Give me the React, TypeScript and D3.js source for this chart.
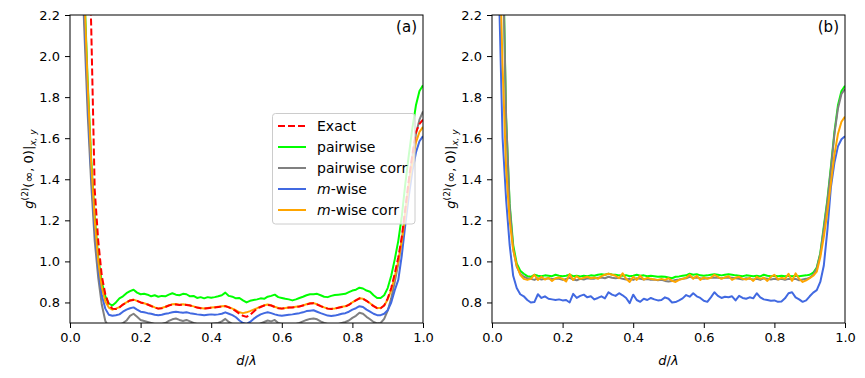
import React, { useEffect, useRef } from "react";
import * as d3 from "d3";

// d/lambda grid, step 0.01
const dValues = d3.range(101).map((i) => i / 100);

// panel (a)
const exactA = [
  9.0, 7.5, 6.0, 4.8, 3.6, 2.75, 2.15, 1.35, 1.1, 0.93,
  0.84, 0.79, 0.77, 0.768, 0.775, 0.79, 0.8, 0.81, 0.812, 0.808,
  0.8, 0.795, 0.79, 0.782, 0.775, 0.77, 0.772, 0.778, 0.785, 0.79,
  0.79, 0.788, 0.79, 0.788, 0.785, 0.78, 0.775, 0.772, 0.77, 0.772,
  0.774, 0.776, 0.778, 0.78, 0.782, 0.776, 0.768, 0.758, 0.745, 0.735,
  0.73, 0.74, 0.755, 0.77, 0.778, 0.785, 0.788, 0.785, 0.778, 0.772,
  0.77, 0.772, 0.775, 0.776, 0.778, 0.78, 0.785, 0.79, 0.795, 0.796,
  0.79, 0.782, 0.775, 0.77, 0.768, 0.77, 0.774, 0.778, 0.78, 0.788,
  0.8, 0.81, 0.82, 0.818, 0.808, 0.795, 0.782, 0.772, 0.772, 0.785,
  0.82, 0.87, 0.94, 1.02, 1.12, 1.26, 1.4, 1.52, 1.63, 1.67,
  1.69,
];
const pairwiseA = [
  6.0, 4.6, 3.6, 2.9, 2.35, 1.88, 1.5, 1.22, 1.02, 0.9,
  0.83, 0.795, 0.785, 0.8, 0.82, 0.83, 0.845, 0.855, 0.862, 0.848,
  0.84, 0.842, 0.838, 0.83, 0.835, 0.828, 0.832, 0.83, 0.838, 0.845,
  0.838, 0.835, 0.842, 0.84, 0.83, 0.832, 0.822, 0.826, 0.82, 0.826,
  0.823, 0.826, 0.83, 0.835, 0.848, 0.832, 0.828, 0.82, 0.822, 0.81,
  0.8, 0.808, 0.812, 0.815, 0.82, 0.818, 0.828, 0.832, 0.838, 0.826,
  0.822, 0.818, 0.815, 0.81, 0.815, 0.822, 0.828, 0.835, 0.84, 0.84,
  0.842, 0.835, 0.828, 0.826, 0.832, 0.836, 0.838, 0.84, 0.842, 0.85,
  0.858, 0.862, 0.872, 0.868, 0.858, 0.852, 0.835, 0.822, 0.822, 0.835,
  0.87, 0.93, 1.01, 1.1, 1.22, 1.38, 1.52, 1.65, 1.76, 1.83,
  1.858,
];
const pairwiseCorrA = [
  5.4, 4.2, 3.3, 2.65, 2.15, 1.72, 1.38, 1.1, 0.92, 0.79,
  0.71, 0.68, 0.675, 0.68, 0.69, 0.7, 0.712, 0.735, 0.745, 0.73,
  0.715, 0.71, 0.705, 0.7, 0.695, 0.692, 0.695, 0.7, 0.71, 0.718,
  0.722, 0.715, 0.71, 0.715, 0.708, 0.7, 0.695, 0.692, 0.69, 0.692,
  0.695, 0.698, 0.7, 0.708, 0.72, 0.705, 0.695, 0.685, 0.67, 0.66,
  0.655, 0.665, 0.68, 0.69, 0.698, 0.705, 0.712, 0.708, 0.715, 0.7,
  0.695, 0.692, 0.69, 0.692, 0.695, 0.7, 0.708, 0.715, 0.72, 0.722,
  0.718, 0.708, 0.7, 0.695, 0.69, 0.692, 0.695, 0.7, 0.705, 0.712,
  0.725, 0.735, 0.75, 0.745, 0.73, 0.718, 0.705, 0.698, 0.7, 0.72,
  0.76, 0.82, 0.9, 0.99, 1.1, 1.24, 1.38, 1.51, 1.62, 1.69,
  1.73,
];
const mWiseA = [
  5.6, 4.3, 3.4, 2.75, 2.25, 1.8, 1.43, 1.16, 0.97, 0.835,
  0.77, 0.74, 0.735, 0.738, 0.742, 0.755, 0.765, 0.772, 0.776, 0.765,
  0.755, 0.752, 0.748, 0.745, 0.74, 0.738, 0.74, 0.745, 0.748, 0.752,
  0.755, 0.752, 0.75, 0.752, 0.748, 0.745, 0.742, 0.74, 0.738, 0.74,
  0.742, 0.74, 0.742, 0.745, 0.752, 0.745, 0.738, 0.728, 0.712, 0.7,
  0.695, 0.705, 0.72, 0.732, 0.742, 0.748, 0.752, 0.748, 0.742, 0.738,
  0.735, 0.738, 0.74, 0.742, 0.745, 0.748, 0.752, 0.758, 0.76, 0.762,
  0.755, 0.748, 0.742, 0.736, 0.734, 0.736, 0.74, 0.745, 0.748, 0.755,
  0.765, 0.772, 0.782, 0.778, 0.765, 0.755, 0.745, 0.738, 0.738, 0.745,
  0.762, 0.8, 0.86, 0.91, 1.03, 1.18, 1.32, 1.44, 1.53, 1.585,
  1.61,
];
const mWiseCorrA = [
  6.0, 4.6, 3.6, 2.9, 2.33, 1.86, 1.48, 1.2, 1.0, 0.875,
  0.805, 0.775, 0.765, 0.77, 0.777, 0.79, 0.8, 0.81, 0.814, 0.808,
  0.8, 0.796, 0.79, 0.784, 0.776, 0.771, 0.773, 0.779, 0.786, 0.791,
  0.792, 0.789, 0.791, 0.789, 0.786, 0.781, 0.776, 0.773, 0.771, 0.773,
  0.775, 0.777, 0.779, 0.781, 0.783, 0.777, 0.77, 0.762, 0.752, 0.748,
  0.752, 0.758, 0.765, 0.772, 0.78, 0.786, 0.79, 0.786, 0.779, 0.773,
  0.771, 0.773, 0.776, 0.777, 0.779, 0.781, 0.786, 0.791, 0.796, 0.797,
  0.791, 0.783, 0.776, 0.771, 0.769, 0.771, 0.775, 0.779, 0.781, 0.789,
  0.801, 0.811, 0.82, 0.818, 0.808, 0.796, 0.783, 0.773, 0.773, 0.785,
  0.815, 0.86, 0.925, 1.0, 1.1, 1.23, 1.37, 1.48, 1.58, 1.63,
  1.655,
];

// panel (b)
const pairwiseB = [
  6.0, 4.8, 3.6, 2.6, 1.7, 1.28, 1.08, 0.99, 0.955, 0.94,
  0.928, 0.925, 0.935, 0.93, 0.928, 0.932, 0.93, 0.928, 0.935, 0.93,
  0.928, 0.93, 0.935, 0.928, 0.93, 0.927, 0.93, 0.928, 0.932, 0.93,
  0.935, 0.937, 0.935, 0.94, 0.936, 0.935, 0.932, 0.93, 0.933, 0.928,
  0.93, 0.935, 0.93, 0.932, 0.928, 0.93, 0.928, 0.925, 0.927, 0.925,
  0.922, 0.918, 0.925, 0.927, 0.93, 0.932, 0.94, 0.935, 0.938, 0.932,
  0.93, 0.932, 0.935, 0.938, 0.935, 0.932, 0.935, 0.937, 0.935, 0.932,
  0.93, 0.928, 0.932, 0.93, 0.928, 0.93, 0.927, 0.935, 0.93, 0.928,
  0.93, 0.928, 0.93, 0.928, 0.93, 0.928, 0.93, 0.928, 0.93, 0.932,
  0.935, 0.945, 0.97, 1.04, 1.17, 1.3, 1.46, 1.63, 1.76, 1.83,
  1.855,
];
const pairwiseCorrB = [
  6.0, 4.8, 3.6, 2.55, 1.7, 1.27, 1.06, 0.975, 0.94, 0.925,
  0.918, 0.915, 0.91, 0.918, 0.912, 0.915, 0.918, 0.914, 0.916, 0.915,
  0.91, 0.915, 0.92, 0.912, 0.908, 0.915, 0.912, 0.918, 0.915, 0.916,
  0.92, 0.922, 0.918, 0.925, 0.92, 0.918, 0.92, 0.915, 0.912, 0.915,
  0.91, 0.918, 0.915, 0.912, 0.914, 0.91, 0.912, 0.908, 0.91, 0.905,
  0.902, 0.905, 0.91, 0.912, 0.915, 0.918, 0.925, 0.92, 0.922, 0.918,
  0.915, 0.918, 0.92, 0.922, 0.92, 0.918, 0.92, 0.922, 0.92, 0.918,
  0.915, 0.912, 0.918, 0.915, 0.912, 0.915, 0.91, 0.918, 0.915, 0.912,
  0.915, 0.912, 0.915, 0.91, 0.915, 0.912, 0.915, 0.908, 0.912, 0.915,
  0.92, 0.935, 0.965, 1.035, 1.16, 1.29, 1.45, 1.62, 1.745, 1.815,
  1.84,
];
const mWiseB = [
  4.0, 3.2, 2.3, 1.6, 1.3, 1.08, 0.93, 0.87, 0.84, 0.83,
  0.812, 0.8, 0.802, 0.84, 0.822, 0.83, 0.818, 0.815, 0.812, 0.815,
  0.81, 0.812, 0.8, 0.842, 0.822, 0.832, 0.838, 0.825, 0.83, 0.815,
  0.822, 0.83, 0.82, 0.85, 0.838, 0.832, 0.845, 0.835, 0.822, 0.797,
  0.838, 0.812, 0.803, 0.818, 0.812, 0.822, 0.815, 0.81, 0.812, 0.825,
  0.818, 0.8, 0.802, 0.81, 0.82, 0.836, 0.828, 0.845, 0.83, 0.822,
  0.808, 0.803, 0.825, 0.85, 0.832, 0.822, 0.828, 0.825, 0.83, 0.81,
  0.832, 0.822, 0.818, 0.825, 0.82, 0.845, 0.825, 0.815, 0.812, 0.808,
  0.81, 0.803, 0.805, 0.82, 0.845, 0.85, 0.825, 0.815, 0.803, 0.81,
  0.83, 0.848, 0.86, 0.9, 0.98, 1.15, 1.36, 1.48, 1.56, 1.595,
  1.61,
];
const mWiseCorrB = [
  4.5, 3.5, 2.6, 1.95, 1.45, 1.2, 1.056, 0.98, 0.935, 0.915,
  0.91, 0.915, 0.935, 0.91, 0.925, 0.912, 0.92, 0.905, 0.918, 0.922,
  0.915, 0.902, 0.938, 0.91, 0.928, 0.915, 0.92, 0.925, 0.918, 0.922,
  0.915, 0.928, 0.935, 0.94, 0.935, 0.93, 0.918, 0.942, 0.915, 0.9,
  0.925, 0.91, 0.93, 0.912, 0.92, 0.915, 0.912, 0.91, 0.915, 0.91,
  0.918, 0.905, 0.9, 0.91, 0.915, 0.92, 0.935, 0.915, 0.93, 0.91,
  0.922, 0.915, 0.92, 0.935, 0.925, 0.915, 0.922, 0.928, 0.91, 0.92,
  0.925, 0.915, 0.912, 0.92, 0.905, 0.925, 0.915, 0.92, 0.905, 0.925,
  0.935, 0.912, 0.92, 0.915, 0.94, 0.905, 0.942, 0.915, 0.9, 0.908,
  0.918, 0.93, 0.95, 1.02, 1.12, 1.24, 1.38, 1.52, 1.62, 1.68,
  1.705,
];

const xTicks = [0, 0.2, 0.4, 0.6, 0.8, 1.0];
const yTicks = [0.8, 1.0, 1.2, 1.4, 1.6, 1.8, 2.0, 2.2];

const legendItems = [
  { key: "exact", label: "Exact", color: "#ff0000", dash: "7,3" },
  { key: "pairwise", label: "pairwise", color: "#00ff00", dash: null },
  { key: "pairwiseCorr", label: "pairwise corr", color: "#808080", dash: null },
  { key: "mWise", label: "-wise", color: "#4169e1", dash: null },
  { key: "mWiseCorr", label: "-wise corr", color: "#ffa500", dash: null },
];

const panels = [
  {
    id: "a",
    left: 70,
    series: [
      { values: pairwiseA, color: "#00ff00", dash: null },
      { values: pairwiseCorrA, color: "#808080", dash: null },
      { values: mWiseA, color: "#4169e1", dash: null },
      { values: mWiseCorrA, color: "#ffa500", dash: null },
      { values: exactA, color: "#ff0000", dash: "7,3" },
    ],
  },
  {
    id: "b",
    left: 492,
    series: [
      { values: pairwiseB, color: "#00ff00", dash: null },
      { values: pairwiseCorrB, color: "#808080", dash: null },
      { values: mWiseB, color: "#4169e1", dash: null },
      { values: mWiseCorrB, color: "#ffa500", dash: null },
    ],
  },
];

const FONT = "DejaVu Sans, sans-serif";

const App = () => {
  const ref = useRef<SVGSVGElement>(null);

  useEffect(() => {
    const svg = d3.select(ref.current);
    svg.selectAll("*").remove();

    const plotW = 353,
      top = 15,
      bottom = 323;

    panels.forEach((p) => {
      const x = d3.scaleLinear().domain([0, 1]).range([p.left, p.left + plotW]);
      const y = d3.scaleLinear().domain([0.7, 2.2]).range([bottom, top]);

      svg
        .append("clipPath")
        .attr("id", `clip-${p.id}`)
        .append("rect")
        .attr("x", p.left)
        .attr("y", top)
        .attr("width", plotW)
        .attr("height", bottom - top);

      const line = d3
        .line<number>()
        .x((_, i) => x(dValues[i]))
        .y((d) => y(d));

      const g = svg.append("g").attr("clip-path", `url(#clip-${p.id})`);
      p.series.forEach((s) => {
        g.append("path")
          .datum(s.values)
          .attr("fill", "none")
          .attr("stroke", s.color)
          .attr("stroke-width", 2)
          .attr("stroke-dasharray", s.dash)
          .attr("stroke-linejoin", "round")
          .attr("d", line);
      });

      // axes
      const xAxis = svg
        .append("g")
        .attr("transform", `translate(0,${bottom})`)
        .call(
          d3.axisBottom(x).tickValues(xTicks).tickFormat(d3.format(".1f")).tickSize(5).tickPadding(5)
        );
      const yAxis = svg
        .append("g")
        .attr("transform", `translate(${p.left},0)`)
        .call(
          d3.axisLeft(y).tickValues(yTicks).tickFormat(d3.format(".1f")).tickSize(5).tickPadding(5)
        );
      [xAxis, yAxis].forEach((a) => {
        a.select(".domain").remove();
        a.selectAll("text").attr("font-family", FONT).attr("font-size", 13).attr("fill", "#000");
        a.selectAll("line").attr("stroke", "#000");
      });

      // frame
      svg
        .append("rect")
        .attr("x", p.left)
        .attr("y", top)
        .attr("width", plotW)
        .attr("height", bottom - top)
        .attr("fill", "none")
        .attr("stroke", "#000")
        .attr("stroke-width", 1);

      // x label
      const xl = svg
        .append("text")
        .attr("x", p.left + plotW / 2)
        .attr("y", 365)
        .attr("text-anchor", "middle")
        .attr("font-family", FONT)
        .attr("font-size", 13)
        .attr("font-style", "italic");
      xl.append("tspan").text("d");
      xl.append("tspan").attr("font-style", "normal").text("/");
      xl.append("tspan").text("λ");

      // y label
      const yl = svg
        .append("text")
        .attr("transform", `translate(${p.left - 37},${(top + bottom) / 2}) rotate(-90)`)
        .attr("text-anchor", "middle")
        .attr("font-family", FONT)
        .attr("font-size", 13);
      yl.append("tspan").attr("font-style", "italic").text("g");
      yl.append("tspan").attr("font-size", 9).attr("dy", -5).text("(2)");
      yl.append("tspan").attr("dy", 5).text("(∞, 0)|");
      yl.append("tspan").attr("font-size", 9).attr("font-style", "italic").attr("dy", 3).text("x, y");

      // panel label
      svg
        .append("text")
        .attr("x", p.left + plotW - 6)
        .attr("y", 32)
        .attr("text-anchor", "end")
        .attr("font-family", FONT)
        .attr("font-size", 15)
        .text(`(${p.id})`);
    });

    // legend in panel (a)
    const lg = svg.append("g");
    lg.append("rect")
      .attr("x", 272.5)
      .attr("y", 113.5)
      .attr("width", 142.5)
      .attr("height", 110.5)
      .attr("rx", 3)
      .attr("fill", "#fff")
      .attr("fill-opacity", 0.8)
      .attr("stroke", "#cccccc")
      .attr("stroke-width", 1);
    legendItems.forEach((it, i) => {
      const yy = 126 + i * 21;
      lg.append("line")
        .attr("x1", 278)
        .attr("x2", 306)
        .attr("y1", yy)
        .attr("y2", yy)
        .attr("stroke", it.color)
        .attr("stroke-width", 2)
        .attr("stroke-dasharray", it.dash);
      const t = lg
        .append("text")
        .attr("x", 317)
        .attr("y", yy + 5)
        .attr("font-family", FONT)
        .attr("font-size", 14);
      if (it.key === "mWise" || it.key === "mWiseCorr") {
        t.append("tspan").attr("font-style", "italic").text("m");
      }
      t.append("tspan").text(it.label);
    });
  }, []);

  return (
    <svg
      ref={ref}
      width={865}
      height={378}
      style={{ position: "absolute", left: 0, top: 0, background: "#fff" }}
    />
  );
};

export default App;
